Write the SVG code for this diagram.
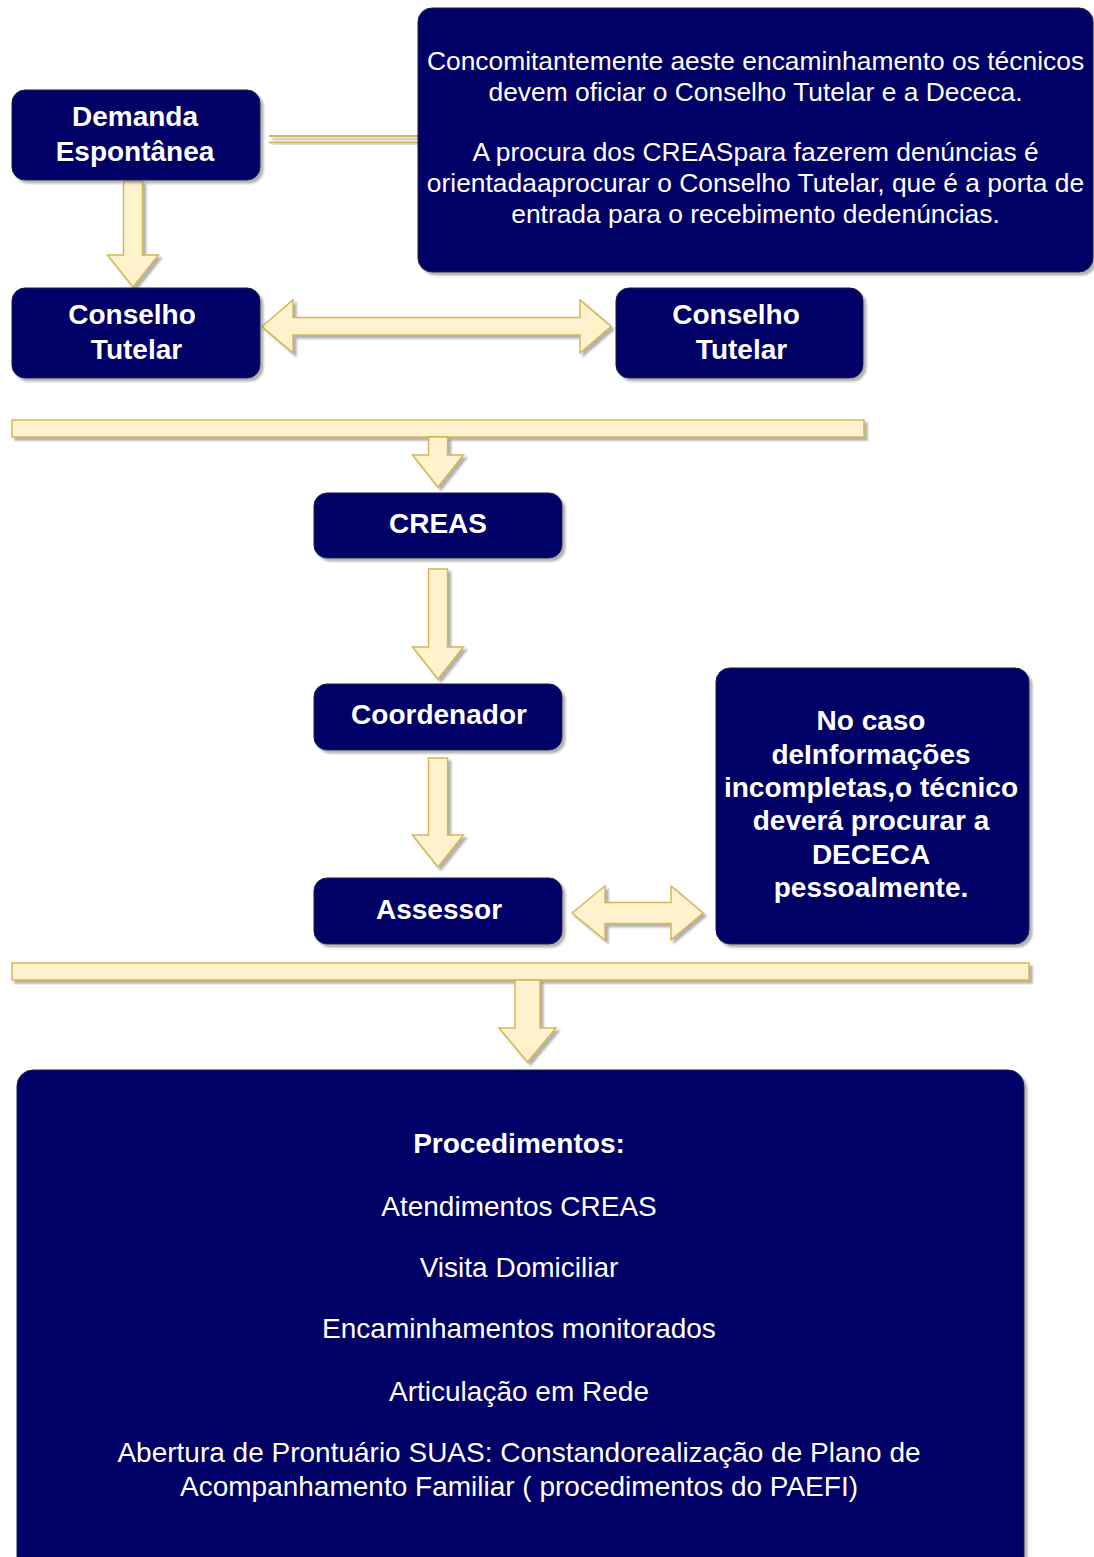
<svg xmlns="http://www.w3.org/2000/svg" width="1094" height="1557" viewBox="0 0 1094 1557">
<defs>
<filter id="sh" x="-5%" y="-5%" width="115%" height="130%">
<feDropShadow dx="3" dy="3" stdDeviation="0.8" flood-color="#7f7f7f" flood-opacity="0.6"/>
</filter>
</defs>
<style>
.box{fill:#000066;stroke:#1a1a4a;stroke-width:1;filter:url(#sh)}
.arr{fill:#FFF2CC;stroke:#D6B656;stroke-width:1.5;stroke-linejoin:miter;filter:url(#sh)}
.ln{fill:none;stroke:#D6B656;stroke-width:1.8}
.tb{font-family:"Liberation Sans",Arial,sans-serif;font-weight:bold;font-size:28px;fill:#ffffff;text-anchor:middle}
.tr{font-family:"Liberation Sans",Arial,sans-serif;font-size:26.4px;fill:#ffffff;text-anchor:middle}
.tr28{font-family:"Liberation Sans",Arial,sans-serif;font-size:28px;fill:#ffffff;text-anchor:middle}
</style>
<rect width="1094" height="1557" fill="#ffffff"/>

<g id="connectors">
<g filter="url(#sh)">
<line class="ln" x1="269" y1="136" x2="418" y2="136"/>
<line class="ln" x1="269" y1="142.5" x2="418" y2="142.5"/>
</g>
<polygon class="arr" points="123.5,181 142.5,181 142.5,255 158.5,255 133,287 107.5,255 123.5,255"/>
<polygon class="arr" points="262,326.5 293,300 293,317.5 580,317.5 580,300 611,326.5 580,353 580,335 293,335 293,353"/>
<rect class="arr" x="12" y="420" width="852" height="17"/>
<polygon class="arr" points="428.5,437 447.5,437 447.5,455 463.5,455 438,487 412.5,455 428.5,455"/>
<polygon class="arr" points="428.5,569 447.5,569 447.5,647 463.5,647 438,679 412.5,647 428.5,647"/>
<polygon class="arr" points="428.5,758 447.5,758 447.5,835 463.5,835 438,867 412.5,835 428.5,835"/>
<polygon class="arr" points="572,913 605,886 605,902.5 671,902.5 671,886 703,913 671,940 671,923.5 605,923.5 605,940"/>
<rect class="arr" x="12" y="963" width="1017" height="17"/>
<polygon class="arr" points="515,980 540,980 540,1028 556,1028 527.5,1062 499,1028 515,1028"/>
</g>

<g id="demanda">
<rect class="box" x="12" y="90" width="248" height="90" rx="13"/>
<text class="tb" x="135" y="126">Demanda</text>
<text class="tb" x="135" y="161">Espontânea</text>
</g>

<g id="nota-topo">
<rect class="box" x="418" y="8" width="675" height="264" rx="14"/>
<text class="tr" x="755.5" y="69.5">Concomitantemente aeste encaminhamento os técnicos</text>
<text class="tr" x="755.5" y="100.5">devem oficiar o Conselho Tutelar e a Dececa.</text>
<text class="tr" x="755.5" y="160.5">A procura dos CREASpara fazerem denúncias é</text>
<text class="tr" x="755.5" y="191.5">orientadaaprocurar o Conselho Tutelar, que é a porta de</text>
<text class="tr" x="755.5" y="222.5">entrada para o recebimento dedenúncias.</text>
</g>

<g id="conselho-esq">
<rect class="box" x="12" y="288" width="248" height="90" rx="13"/>
<text class="tb" x="132" y="324">Conselho</text>
<text class="tb" x="136.5" y="359">Tutelar</text>
</g>

<g id="conselho-dir">
<rect class="box" x="616" y="288" width="247" height="90" rx="13"/>
<text class="tb" x="736" y="324">Conselho</text>
<text class="tb" x="741.5" y="359">Tutelar</text>
</g>

<g id="creas">
<rect class="box" x="314" y="493" width="248" height="65" rx="13"/>
<text class="tb" x="438" y="533">CREAS</text>
</g>

<g id="coordenador">
<rect class="box" x="314" y="684" width="248" height="66" rx="13"/>
<text class="tb" x="439" y="724">Coordenador</text>
</g>

<g id="assessor">
<rect class="box" x="314" y="878" width="248" height="66" rx="13"/>
<text class="tb" x="439" y="919">Assessor</text>
</g>

<g id="dececa">
<rect class="box" x="716" y="668" width="313" height="276" rx="14"/>
<text class="tb" x="871" y="730">No caso</text>
<text class="tb" x="871" y="764">deInformações</text>
<text class="tb" x="871" y="797">incompletas,o técnico</text>
<text class="tb" x="871" y="830">deverá procurar a</text>
<text class="tb" x="871" y="864">DECECA</text>
<text class="tb" x="871" y="897">pessoalmente.</text>
</g>

<g id="procedimentos">
<rect class="box" x="17" y="1070" width="1007" height="510" rx="16"/>
<text class="tb" x="519" y="1153">Procedimentos:</text>
<text class="tr28" x="519" y="1216">Atendimentos CREAS</text>
<text class="tr28" x="519" y="1277">Visita Domiciliar</text>
<text class="tr28" x="519" y="1338">Encaminhamentos monitorados</text>
<text class="tr28" x="519" y="1401">Articulação em Rede</text>
<text class="tr28" x="519" y="1462">Abertura de Prontuário SUAS: Constandorealização de Plano de</text>
<text class="tr28" x="519" y="1496">Acompanhamento Familiar ( procedimentos do PAEFI)</text>
</g>
</svg>
